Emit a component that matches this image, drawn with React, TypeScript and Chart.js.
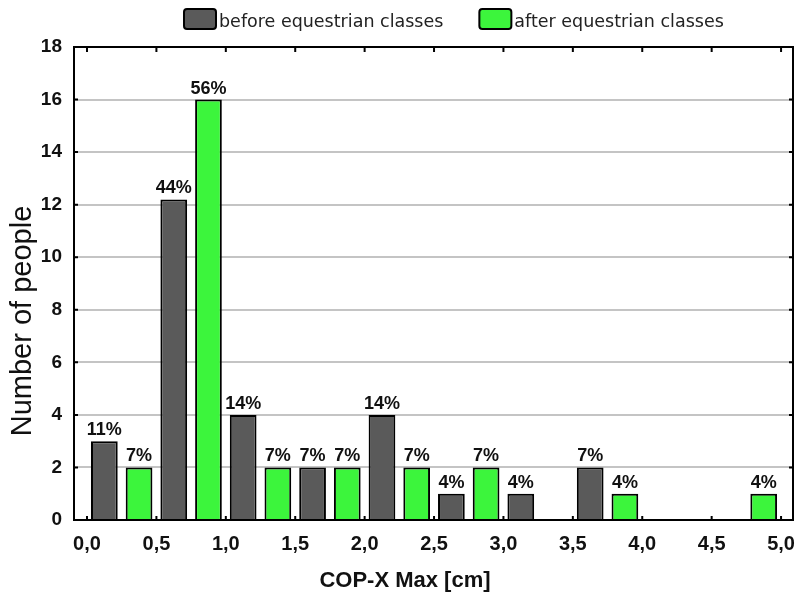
import React, { useEffect, useRef } from "react";
import { Chart, registerables } from "chart.js";

Chart.register(...registerables);

// Bin centres (cm) for each series
const beforeBins = [0.125, 0.625, 1.125, 1.625, 2.125, 2.625, 3.125, 3.625, 4.125, 4.625];
const beforeValues = [3, 12.2, 4, 2, 4, 1, 1, 2, 0, 0];
const beforeLabels = ["11%", "44%", "14%", "7%", "14%", "4%", "4%", "7%", "", ""];

const afterBins = [0.375, 0.875, 1.375, 1.875, 2.375, 2.875, 3.375, 3.875, 4.375, 4.875];
const afterValues = [2, 16, 2, 2, 2, 2, 0, 1, 0, 1];
const afterLabels = ["7%", "56%", "7%", "7%", "7%", "7%", "", "4%", "", "4%"];

const xTickValues = [0, 0.5, 1, 1.5, 2, 2.5, 3, 3.5, 4, 4.5, 5];
const seriesNames = ["before equestrian classes", "after equestrian classes"];
const xTitle = "COP-X Max [cm]";
const yTitle = "Number of people";

const GRAY = "#5a5a5a";
const GREEN = "#3cf53c";

const decoPlugin = {
  id: "deco",
  afterDatasetsDraw(chart: any) {
    const ctx = chart.ctx;
    const area = chart.chartArea;
    const xs = chart.scales.x;
    const ys = chart.scales.y;
    ctx.save();
    // data labels
    ctx.fillStyle = "#111";
    ctx.font = "bold 18px 'Liberation Sans', Arial, sans-serif";
    ctx.textAlign = "center";
    ctx.textBaseline = "alphabetic";
    const allLabels = [beforeLabels, afterLabels];
    chart.data.datasets.forEach((_ds: any, di: number) => {
      const meta = chart.getDatasetMeta(di);
      meta.data.forEach((el: any, i: number) => {
        const t = allLabels[di][i];
        if (!t) return;
        ctx.fillText(t, el.x, el.y - 6);
      });
    });
    // frame
    ctx.strokeStyle = "#000";
    ctx.lineWidth = 2;
    ctx.strokeRect(area.left, area.top, area.right - area.left, area.bottom - area.top);
    // inner ticks
    ctx.lineWidth = 2;
    ctx.beginPath();
    xTickValues.forEach((v) => {
      const px = xs.getPixelForValue(v);
      ctx.moveTo(px, area.top);
      ctx.lineTo(px, area.top + 5);
      ctx.moveTo(px, area.bottom);
      ctx.lineTo(px, area.bottom - 4);
    });
    ys.ticks.forEach((t: any) => {
      const py = ys.getPixelForValue(t.value);
      ctx.moveTo(area.left, py);
      ctx.lineTo(area.left + 4, py);
      ctx.moveTo(area.right, py);
      ctx.lineTo(area.right - 4, py);
    });
    ctx.stroke();
    ctx.restore();
  },
  afterDraw(chart: any) {
    const ctx = chart.ctx;
    ctx.save();
    // legend
    ctx.font = "17.5px 'DejaVu Sans', sans-serif";
    ctx.textBaseline = "alphabetic";
    ctx.textAlign = "left";
    let x = 184;
    chart.data.datasets.forEach((ds: any) => {
      ctx.fillStyle = ds.backgroundColor;
      ctx.strokeStyle = "#000";
      ctx.lineWidth = 2;
      ctx.beginPath();
      ctx.roundRect(x, 9, 32, 20, 3);
      ctx.fill();
      ctx.stroke();
      ctx.fillStyle = "#222";
      const tx = x + 35;
      ctx.fillText(ds.label, tx, 26.5);
      x = tx + ctx.measureText(ds.label).width + 36;
    });
    // axis titles
    ctx.fillStyle = "#111";
    ctx.font = "bold 22px 'Liberation Sans', Arial, sans-serif";
    ctx.textAlign = "center";
    ctx.fillText(xTitle, 405, 587);
    ctx.translate(31, 321);
    ctx.rotate(-Math.PI / 2);
    ctx.font = "29px 'Liberation Sans', Arial, sans-serif";
    ctx.fillText(yTitle, 0, 0);
    ctx.restore();
  },
};

export default function App() {
  const ref = useRef<HTMLCanvasElement | null>(null);
  useEffect(() => {
    document.body.style.margin = "0";
    const canvas = ref.current;
    if (!canvas) return;
    const chart = new Chart(canvas, {
      type: "bar",
      data: {
        datasets: [
          {
            label: seriesNames[0],
            data: beforeBins.map((b, i) => ({ x: b, y: beforeValues[i] })),
            backgroundColor: GRAY,
            borderColor: "#000",
            borderWidth: 2,
            grouped: false,
            barPercentage: 0.77,
            categoryPercentage: 1,
          } as any,
          {
            label: seriesNames[1],
            data: afterBins.map((b, i) => ({ x: b, y: afterValues[i] })),
            backgroundColor: GREEN,
            borderColor: "#000",
            borderWidth: 2,
            grouped: false,
            barPercentage: 0.77,
            categoryPercentage: 1,
          } as any,
        ],
      },
      options: {
        animation: false,
        responsive: false,
        layout: { padding: { left: 0, right: 3, top: 47, bottom: 0 } },
        plugins: {
          legend: { display: false },
          tooltip: { enabled: false },
        },
        scales: {
          x: {
            type: "linear",
            min: -0.0937,
            max: 5.086,
            offset: false,
            afterBuildTicks: (scale: any) => {
              scale.ticks = xTickValues.map((v) => ({ value: v }));
            },
            afterFit: (scale: any) => {
              scale.height = 73;
              scale.paddingLeft = 0;
              scale.paddingRight = 0;
            },
            grid: { display: false, drawTicks: false },
            border: { display: false },
            ticks: {
              padding: 12,
              color: "#111",
              font: { family: "'Liberation Sans', Arial, sans-serif", size: 20, weight: "bold" },
              callback: (v: any) => Number(v).toFixed(1).replace(".", ","),
              maxRotation: 0,
              autoSkip: false,
            },
          },
          y: {
            min: 0,
            max: 18,
            afterFit: (scale: any) => {
              scale.width = 74;
              scale.paddingTop = 0;
              scale.paddingBottom = 0;
            },
            grid: { color: "#c4c4c4", lineWidth: 2, drawTicks: false },
            border: { display: false },
            ticks: {
              stepSize: 2,
              padding: 12,
              color: "#111",
              font: { family: "'Liberation Sans', Arial, sans-serif", size: 19, weight: "bold" },
            },
          },
        },
      },
      plugins: [decoPlugin],
    });
    return () => chart.destroy();
  }, []);
  return <canvas ref={ref} width={796} height={593} style={{ display: "block" }} />;
}
